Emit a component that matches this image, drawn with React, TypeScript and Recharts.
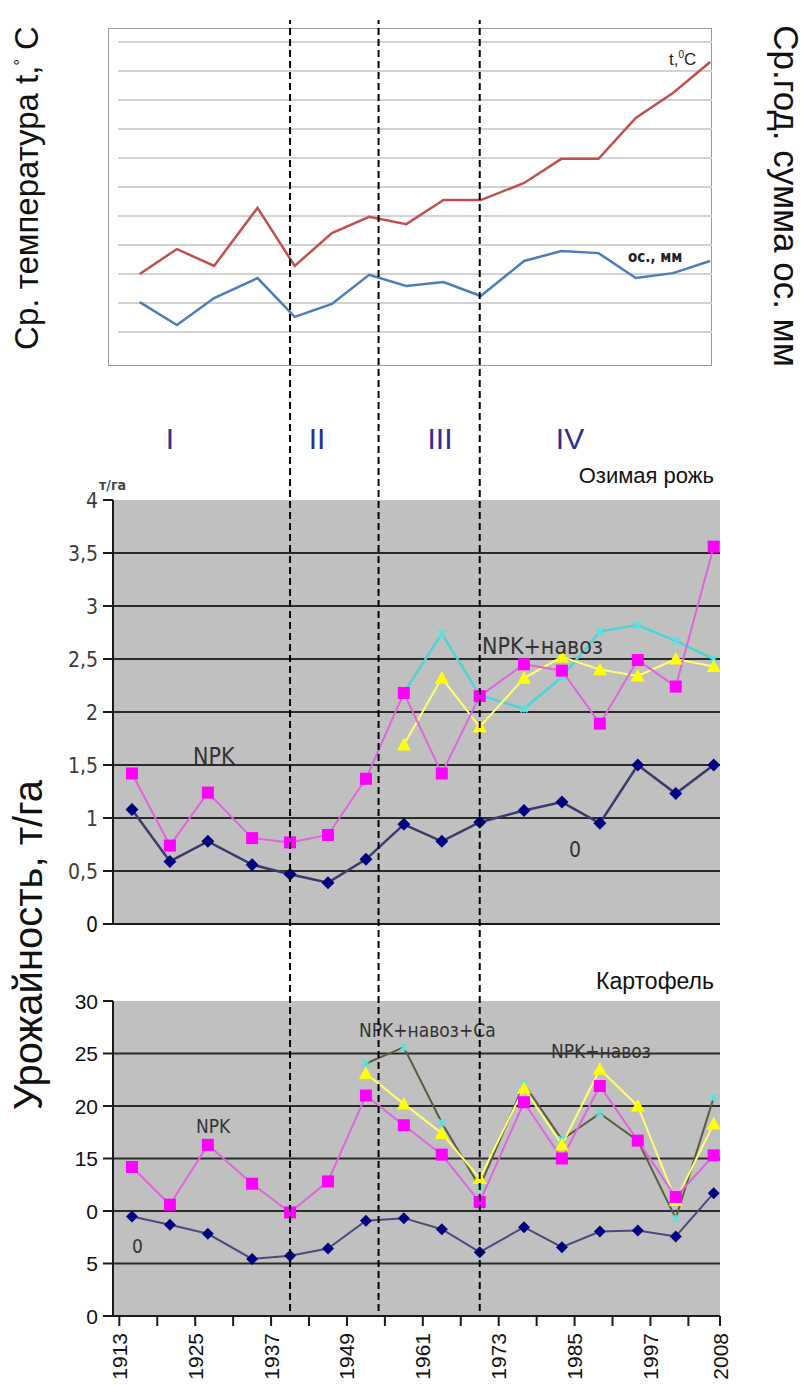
import React from 'react';
import { LineChart, Line, XAxis, YAxis, CartesianGrid, ReferenceLine } from 'recharts';

// годы точек (общие для всех трёх графиков)
const years = [1915, 1921, 1927, 1934, 1940, 1946, 1952, 1958, 1964, 1970, 1977, 1983, 1989, 1995, 2001, 2007];

// верхний график, в делениях сетки (шкалы не подписаны)
const temperature = [2.0, 2.86, 2.28, 4.28, 2.28, 3.41, 3.97, 3.72, 4.55, 4.55, 5.14, 5.97, 5.97, 7.38, 8.24, 9.31];
const precipitation = [1.03, 0.24, 1.17, 1.86, 0.52, 0.97, 1.97, 1.59, 1.72, 1.24, 2.45, 2.79, 2.72, 1.86, 2.03, 2.45];

// озимая рожь, т/га
const ryeControl = [1.08, 0.59, 0.78, 0.56, 0.47, 0.39, 0.61, 0.94, 0.78, 0.96, 1.07, 1.15, 0.95, 1.5, 1.23, 1.5];
const ryeNPK = [1.42, 0.74, 1.24, 0.81, 0.77, 0.84, 1.37, 2.18, 1.42, 2.15, 2.45, 2.39, 1.89, 2.49, 2.24, 3.56];
const ryeNPKManure = [null, null, null, null, null, null, null, 1.69, 2.32, 1.86, 2.32, 2.52, 2.4, 2.34, 2.5, 2.43];
const ryeNPKManureCa = [null, null, null, null, null, null, null, 2.18, 2.74, 2.16, 2.03, 2.33, 2.76, 2.82, 2.67, 2.5];

// картофель
const potatoControl = [9.48, 8.69, 7.83, 5.44, 5.73, 6.43, 9.07, 9.32, 8.27, 6.08, 8.46, 6.55, 8.05, 8.15, 7.57, 11.7];
const potatoNPK = [14.19, 10.6, 16.3, 12.6, 9.86, 12.82, 21.0, 18.17, 15.37, 10.85, 20.36, 15.0, 21.9, 16.7, 11.33, 15.3];
const potatoNPKManure = [null, null, null, null, null, null, 23.1, 20.2, 17.4, 13.1, 21.7, 16.3, 23.5, 20.0, 11.0, 18.3];
const potatoNPKManureCa = [null, null, null, null, null, null, 24.05, 25.6, 18.4, 12.3, 22.1, 16.8, 19.3, 16.7, 9.3, 20.8];

const yearTicks = [1913, 1919, 1925, 1931, 1937, 1943, 1949, 1955, 1961, 1967, 1973, 1979, 1985, 1991, 1997, 2003, 2008];
const yearLabels = [1913, 1925, 1937, 1949, 1961, 1973, 1985, 1997, 2008];
const periodBounds = [1940, 1954, 1970];
const periods = ['I', 'II', 'III', 'IV'];

const gridTicks = [0, 1, 2, 3, 4, 5, 6, 7, 8, 9, 10];
const ryeTicks = [0, 0.5, 1, 1.5, 2, 2.5, 3, 3.5, 4];
const potatoTicks = [0, 5, 10, 15, 20, 25, 30];
const potatoTickText = ['0', '5', '0', '15', '20', '25', '30'];

const X_DOMAIN: [number, number] = [1912, 2008];
const TOP_DOMAIN: [number, number] = [1911.5, 2007.3];

const SANS = "'Liberation Sans', Arial, sans-serif";
const NARROW = "'Liberation Sans Narrow', 'DejaVu Sans Condensed', sans-serif";

const topRows = years.map((year, i) => ({ year, t: temperature[i], p: precipitation[i] }));
const ryeRows = years.map((year, i) => ({
  year, c: ryeControl[i], npk: ryeNPK[i], m: ryeNPKManure[i], ca: ryeNPKManureCa[i],
}));
const potatoRows = years.map((year, i) => ({
  year, c: potatoControl[i], npk: potatoNPK[i], m: potatoNPKManure[i], ca: potatoNPKManureCa[i],
}));

const ok = (p: any) => p && p.cx != null && p.cy != null && p.value != null && !Number.isNaN(p.cy);

const diamond = (fill: string, r: number) => (p: any) =>
  ok(p) ? <path key={p.index} d={`M${p.cx},${p.cy - r}L${p.cx + r},${p.cy}L${p.cx},${p.cy + r}L${p.cx - r},${p.cy}Z`} fill={fill} /> : <g key={p.index} />;
const square = (fill: string, r: number) => (p: any) =>
  ok(p) ? <rect key={p.index} x={p.cx - r} y={p.cy - r} width={2 * r} height={2 * r} fill={fill} /> : <g key={p.index} />;
const triangle = (fill: string, r: number) => (p: any) =>
  ok(p) ? <path key={p.index} d={`M${p.cx},${p.cy - r}L${p.cx + r},${p.cy + r * 0.8}L${p.cx - r},${p.cy + r * 0.8}Z`} fill={fill} /> : <g key={p.index} />;
const star = (color: string, r: number) => (p: any) =>
  ok(p) ? (
    <g key={p.index} stroke={color} strokeWidth={2}>
      <line x1={p.cx - r} y1={p.cy - r} x2={p.cx + r} y2={p.cy + r} />
      <line x1={p.cx - r} y1={p.cy + r} x2={p.cx + r} y2={p.cy - r} />
      <line x1={p.cx} y1={p.cy - r} x2={p.cx} y2={p.cy + r} />
    </g>
  ) : <g key={p.index} />;

const YearTick = ({ x, y, payload }: any) => {
  if (!yearLabels.includes(payload.value)) return <g />;
  return (
    <text x={x} y={y} transform={`rotate(-90 ${x} ${y})`} dy="0.36em" textAnchor="end"
      fontFamily={SANS} fontSize={21} fill="#111">{payload.value}</text>
  );
};

const RyeTick = ({ x, y, payload }: any) => (
  <text x={x} y={y} dy="0.36em" textAnchor="end" fontFamily={NARROW} fontSize={21}
    fill={payload.value === 0 ? '#111' : '#3a3a3a'}>{String(payload.value).replace('.', ',')}</text>
);

const PotatoTick = ({ x, y, payload }: any) => (
  <text x={x} y={y} dy="0.36em" textAnchor="end" fontFamily={SANS} fontSize={21} fill="#111">
    {potatoTickText[potatoTicks.indexOf(payload.value)]}
  </text>
);

const Label = ({ left, top, size, children, color = '#333', font = NARROW, weight = 'normal', right }: any) => (
  <div style={{
    position: 'absolute', left, right, top, fontSize: size, lineHeight: 1, fontFamily: font,
    color, fontWeight: weight, whiteSpace: 'nowrap',
  }}>{children}</div>
);

const Rotated = ({ cx, cy, size, deg, children }: any) => (
  <div style={{
    position: 'absolute', left: cx, top: cy, transform: `translate(-50%, -50%) rotate(${deg}deg)`,
    fontFamily: SANS, fontSize: size, whiteSpace: 'nowrap', lineHeight: 1, color: '#111',
  }}>{children}</div>
);

const App = () => (
  <div style={{ position: 'absolute', left: 0, top: 0, width: 806, height: 1385, background: '#fff', overflow: 'hidden' }}>
    {/* верхний: температура и осадки */}
    <div style={{ position: 'absolute', left: 108, top: 28, width: 604, height: 338, boxShadow: 'inset 0 0 0 1px #9a9a9a' }}>
      <LineChart width={604} height={338} data={topRows} margin={{ top: 14, right: 0, bottom: 34, left: 10 }}>
        <CartesianGrid vertical={false} stroke="#d2d2d2" strokeWidth={2} horizontalValues={gridTicks} yAxisId="t" />
        <XAxis dataKey="year" type="number" domain={TOP_DOMAIN} allowDataOverflow hide />
        <YAxis yAxisId="t" domain={[0, 10]} ticks={gridTicks} allowDataOverflow hide />
        <YAxis yAxisId="p" orientation="right" domain={[0, 10]} allowDataOverflow hide />
        <Line yAxisId="t" dataKey="t" stroke="#c0504d" strokeWidth={2.5} dot={false} isAnimationActive={false} />
        <Line yAxisId="p" dataKey="p" stroke="#4a7ebb" strokeWidth={2.5} dot={false} isAnimationActive={false} />
      </LineChart>
    </div>
    <Label left={669} top={50} size={17} font={SANS} color="#222">t,<sup style={{ fontSize: 10 }}>0</sup>C</Label>
    <Label left={628} top={250} size={15} font={NARROW} color="#222" weight="bold">ос., мм</Label>

    <Rotated cx={26} cy={188} size={33} deg={-90}>Ср. температура t,<sup style={{ fontSize: 16 }}>°</sup> C</Rotated>
    <Rotated cx={786} cy={196} size={35} deg={90}>Ср.год. сумма ос. мм</Rotated>
    <Rotated cx={28} cy={945} size={40} deg={-90}>Урожайность, т/га</Rotated>

    {/* периоды */}
    {periods.map((p, i) => (
      <div key={p} style={{
        position: 'absolute', top: 424, left: [170, 317, 440, 570][i], transform: 'translateX(-50%)',
        fontFamily: SANS, fontSize: 30, lineHeight: 1, color: '#2b2f8f',
      }}>{p}</div>
    ))}

    {/* озимая рожь */}
    <Label right={92} top={465} size={22} font={SANS} color="#111">Озимая рожь</Label>
    <Label left={99} top={478} size={14} font={NARROW} color="#444" weight="bold">т/га</Label>
    <div style={{ position: 'absolute', left: 0, top: 460 }}>
      <LineChart width={806} height={500} data={ryeRows} margin={{ top: 40, right: 86, bottom: 16, left: 53 }}>
        <CartesianGrid vertical={false} fill="#c0c0c0" fillOpacity={1} stroke="#2a2a2a" strokeWidth={2}
          horizontalValues={[0.5, 1, 1.5, 2, 2.5, 3, 3.5]} />
        <XAxis dataKey="year" type="number" domain={X_DOMAIN} ticks={yearTicks} interval={0} height={20}
          tick={false} tickSize={6} axisLine={{ stroke: '#1a1a1a', strokeWidth: 2 }} tickLine={{ stroke: '#1a1a1a' }} />
        <YAxis width={60} domain={[0, 4]} ticks={ryeTicks} interval={0} tickSize={10} tickMargin={5}
          tick={<RyeTick />} axisLine={{ stroke: '#1a1a1a', strokeWidth: 2 }} tickLine={{ stroke: '#1a1a1a', strokeWidth: 2 }} />
        <Line dataKey="ca" stroke="#4fd4d4" strokeWidth={2.5} dot={star('#5ee0e0', 3.5)} isAnimationActive={false} />
        <Line dataKey="m" stroke="#ffff70" strokeWidth={2} dot={triangle('#ffff00', 7)} isAnimationActive={false} />
        <Line dataKey="npk" stroke="#dd66dd" strokeWidth={2} dot={square('#ff00ff', 6)} isAnimationActive={false} />
        <Line dataKey="c" stroke="#3b3b6b" strokeWidth={2.5} dot={diamond('#000080', 6.5)} isAnimationActive={false} />
      </LineChart>
    </div>
    <Label left={193} top={745} size={23}>NPK</Label>
    <Label left={482} top={635} size={23}>NPK+навоз</Label>
    <Label left={569} top={840} size={21}>0</Label>

    {/* картофель */}
    <Label right={92} top={970} size={23} font={SANS} color="#111">Картофель</Label>
    <div style={{ position: 'absolute', left: 0, top: 960 }}>
      <LineChart width={806} height={425} data={potatoRows} margin={{ top: 41, right: 86, bottom: 0, left: 53 }}>
        <CartesianGrid vertical={false} fill="#c0c0c0" fillOpacity={1} stroke="#2a2a2a" strokeWidth={2}
          horizontalValues={[5, 10, 15, 20, 25]} />
        <XAxis dataKey="year" type="number" domain={X_DOMAIN} ticks={yearTicks} interval={0} height={69}
          tick={<YearTick />} tickSize={10} tickMargin={7} axisLine={{ stroke: '#1a1a1a', strokeWidth: 2 }}
          tickLine={{ stroke: '#1a1a1a', strokeWidth: 2 }} />
        <YAxis width={60} domain={[0, 30]} ticks={potatoTicks} interval={0} tickSize={10} tickMargin={5}
          tick={<PotatoTick />} axisLine={{ stroke: '#1a1a1a', strokeWidth: 2 }} tickLine={{ stroke: '#1a1a1a', strokeWidth: 2 }} />
        <Line dataKey="ca" stroke="#5c5c44" strokeWidth={2} dot={star('#66dddd', 3.5)} isAnimationActive={false} />
        <Line dataKey="m" stroke="#ffff70" strokeWidth={2} dot={triangle('#ffff00', 7)} isAnimationActive={false} />
        <Line dataKey="npk" stroke="#dd66dd" strokeWidth={2} dot={square('#ff00ff', 6)} isAnimationActive={false} />
        <Line dataKey="c" stroke="#4a4a7c" strokeWidth={2} dot={diamond('#000080', 6)} isAnimationActive={false} />
      </LineChart>
    </div>
    <Label left={359} top={1021} size={19}>NPK+навоз+Ca</Label>
    <Label left={551} top={1042} size={19}>NPK+навоз</Label>
    <Label left={196} top={1117} size={19}>NPK</Label>
    <Label left={132} top={1237} size={19}>0</Label>

    {/* границы периодов через все графики */}
    <div style={{ position: 'absolute', left: 0, top: 0, pointerEvents: 'none' }}>
      <LineChart width={806} height={1385} data={periodBounds.map((year) => ({ year }))}
        margin={{ top: 20, right: 86, bottom: 74, left: 113 }}>
        <XAxis dataKey="year" type="number" domain={X_DOMAIN} allowDataOverflow hide />
        <YAxis domain={[0, 1]} allowDataOverflow hide />
        {periodBounds.map((b) => (
          <ReferenceLine key={b} x={b} stroke="#000" strokeWidth={2} strokeDasharray="7 4" />
        ))}
      </LineChart>
    </div>
  </div>
);

export default App;
